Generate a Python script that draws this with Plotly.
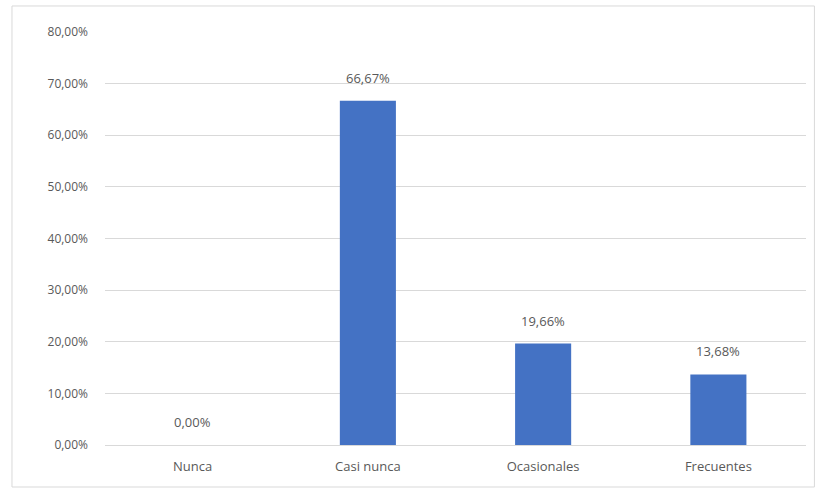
import plotly.graph_objects as go

categories = ["Nunca", "Casi nunca", "Ocasionales", "Frecuentes"]
values = [0.0, 66.67, 19.66, 13.68]
tick_vals = [0, 10, 20, 30, 40, 50, 60, 70, 80]
tick_text = ["0,00%", "10,00%", "20,00%", "30,00%", "40,00%", "50,00%", "60,00%", "70,00%", "80,00%"]
labels = [f"{v:.2f}%".replace(".", ",") for v in values]

font_color = "#595959"
fig = go.Figure(go.Bar(
    x=categories, y=values,
    marker=dict(color="#4472C4", line=dict(width=0)),
    width=0.32, hoverinfo="x+y",
))

annotations = [dict(x=c, y=v, text=t, showarrow=False, xref="x", yref="y",
                    yanchor="bottom", yshift=12,
                    font=dict(color=font_color, size=13))
               for c, v, t in zip(categories, values, labels)]

fig.update_layout(
    width=817, height=496,
    margin=dict(l=105, r=11, t=32, b=51),
    paper_bgcolor="white", plot_bgcolor="white",
    font=dict(family="Open Sans, Liberation Sans, sans-serif", size=12, color=font_color),
    showlegend=False,
    annotations=annotations,
    yaxis=dict(range=[0, 80], tickvals=tick_vals, ticktext=tick_text,
               showgrid=True, gridcolor="#D9D9D9", gridwidth=1,
               zeroline=True, zerolinecolor="#D9D9D9", zerolinewidth=1,
               showline=False, ticks="", ticklabelstandoff=16,
               tickfont=dict(size=12, color=font_color)),
    xaxis=dict(showgrid=False, showline=False, ticks="", ticklabelstandoff=12,
               tickfont=dict(size=13, color=font_color)),
    shapes=[dict(type="rect", xref="paper", yref="paper",
                 x0=-0.1327, x1=1.012, y0=-0.1017, y1=1.063,
                 line=dict(color="#D9D9D9", width=1), fillcolor="rgba(0,0,0,0)",
                 layer="below")],
)

fig.write_html("out.html")
